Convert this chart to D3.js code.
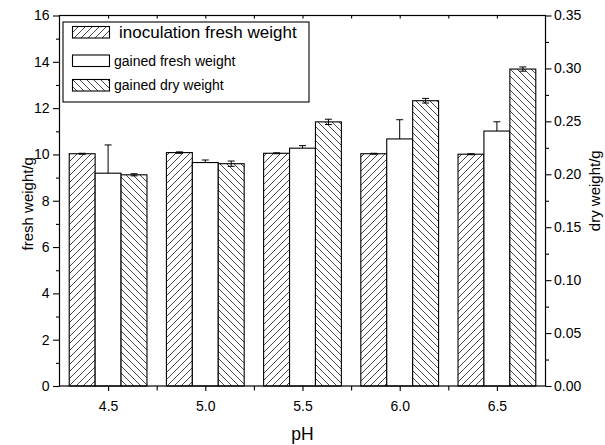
<!DOCTYPE html>
<html><head><meta charset="utf-8">
<script src="https://cdn.jsdelivr.net/npm/d3@7"></script>
<style>body{margin:0;background:#fff}svg{display:block}text{font-family:"Liberation Sans",Arial,sans-serif;fill:#000}</style>
</head><body>
<svg id="c" width="605" height="445"></svg>
<script>
const categories = [4.5, 5.0, 5.5, 6.0, 6.5];
const tickLabels = ["4.5", "5.0", "5.5", "6.0", "6.5"];
const seriesNames = ["inoculation fresh weight", "gained fresh weight", "gained dry weight"];
const inoculationFresh = [10.03, 10.08, 10.05, 10.03, 10.01];
const inoculationErr = [0.02, 0.03, 0.02, 0.02, 0.02];
const gainedFresh = [9.19, 9.65, 10.27, 10.67, 11.01];
const gainedFreshErr = [1.22, 0.11, 0.11, 0.83, 0.40];
const gainedDry = [0.1995, 0.210, 0.2495, 0.2695, 0.2994];
const gainedDryErr = [0.001, 0.0025, 0.0025, 0.0022, 0.002];

const svg = d3.select("#c");
const L = 59.5, R = 545.5, T = 15.5, B = 386;
const x = d3.scaleLinear().domain([4.25, 6.75]).range([L, R]);
const yL = d3.scaleLinear().domain([0, 16]).range([B, T]);
const yR = d3.scaleLinear().domain([0, 0.35]).range([B, T]);
const groupW = (x(5.0) - x(4.5)) * 0.8;
const inner = d3.scaleBand().domain([0,1,2]).range([-groupW/2, groupW/2]).padding(0);

const defs = svg.append("defs");
function hatch(id, d) {
  const p = defs.append("pattern").attr("id", id).attr("patternUnits", "userSpaceOnUse")
    .attr("width", 7).attr("height", 7);
  p.append("rect").attr("width", 7).attr("height", 7).attr("fill", "#fff");
  p.append("path").attr("d", d).attr("stroke", "#333").attr("stroke-width", 0.9).attr("fill", "none");
}
hatch("fwd", "M0,7 L7,0 M-1,1 L1,-1 M6,8 L8,6");
hatch("bwd", "M0,0 L7,7 M-1,6 L1,8 M6,-1 L8,1");
const fills = ["url(#fwd)", "#fff", "url(#bwd)"];

const series = [
  {vals: inoculationFresh, err: inoculationErr, y: yL, both: true},
  {vals: gainedFresh, err: gainedFreshErr, y: yL, both: false},
  {vals: gainedDry, err: gainedDryErr, y: yR, both: true}
];

series.forEach((s, si) => {
  const g = svg.append("g");
  categories.forEach((c, i) => {
    const x0 = x(c) + inner(si);
    const w = inner.bandwidth();
    g.append("rect").attr("x", x0).attr("y", s.y(s.vals[i])).attr("width", w)
      .attr("height", B - s.y(s.vals[i])).attr("fill", fills[si])
      .attr("stroke", "#000").attr("stroke-width", 1.1);
    const cx = x0 + w/2;
    const top = s.y(s.vals[i] + s.err[i]);
    const bot = s.both ? s.y(s.vals[i] - s.err[i]) : s.y(s.vals[i]);
    g.append("line").attr("x1", cx).attr("x2", cx).attr("y1", top).attr("y2", bot)
      .attr("stroke", "#000").attr("stroke-width", 1);
    g.append("line").attr("x1", cx-3.5).attr("x2", cx+3.5).attr("y1", top).attr("y2", top)
      .attr("stroke", "#000").attr("stroke-width", 1);
    if (s.both) g.append("line").attr("x1", cx-3.5).attr("x2", cx+3.5).attr("y1", bot).attr("y2", bot)
      .attr("stroke", "#000").attr("stroke-width", 1);
  });
});

// frame
svg.append("rect").attr("x", L).attr("y", T).attr("width", R-L).attr("height", B-T)
  .attr("fill", "none").attr("stroke", "#000").attr("stroke-width", 1.2);

// left axis
svg.append("g").attr("transform", `translate(${L},0)`)
  .call(d3.axisLeft(yL).tickValues(d3.range(0, 17, 2)).tickFormat(d3.format("d")).tickSize(6.5).tickPadding(3.5));
svg.append("g").attr("transform", `translate(${L},0)`)
  .call(d3.axisLeft(yL).tickValues(d3.range(1, 16, 2)).tickFormat("").tickSize(3.5));
// right axis
svg.append("g").attr("transform", `translate(${R},0)`)
  .call(d3.axisRight(yR).tickValues(d3.range(0, 0.351, 0.05)).tickFormat(d3.format(".2f")).tickSize(6).tickPadding(2.5));
svg.append("g").attr("transform", `translate(${R},0)`)
  .call(d3.axisRight(yR).tickValues(d3.range(0.025, 0.35, 0.05)).tickFormat("").tickSize(3.5));
// bottom axis
svg.append("g").attr("transform", `translate(0,${B})`)
  .call(d3.axisBottom(x).tickValues(categories).tickFormat((d,i) => tickLabels[i]).tickSize(5).tickPadding(10));
svg.append("g").attr("transform", `translate(0,${B})`)
  .call(d3.axisBottom(x).tickValues([4.75, 5.25, 5.75, 6.25]).tickFormat("").tickSize(4.5));
// top inward ticks
svg.append("g").attr("transform", `translate(0,${T})`)
  .call(d3.axisBottom(x).tickValues(categories.concat([4.75, 5.25, 5.75, 6.25])).tickFormat("").tickSize(3));

svg.selectAll(".domain").remove();
svg.selectAll(".tick line").attr("stroke", "#000").attr("stroke-width", 1.1);
svg.selectAll(".tick text").attr("font-size", 14).attr("font-family", "Liberation Sans, Arial, sans-serif").attr("fill", "#000");

// axis titles
svg.append("text").attr("transform", `translate(33,${(T+B)/2 + 3}) rotate(-90)`)
  .attr("text-anchor", "middle").attr("font-size", 15).text("fresh weight/g");
svg.append("text").attr("transform", `translate(600,${(T+B)/2 - 10}) rotate(-90)`)
  .attr("text-anchor", "middle").attr("font-size", 15).text("dry weight/g");
svg.append("text").attr("x", (L+R)/2).attr("y", 440).attr("text-anchor", "middle")
  .attr("font-size", 17.5).text("pH");

// legend
const lg = svg.append("g");
lg.append("rect").attr("x", 63).attr("y", 22).attr("width", 246).attr("height", 80)
  .attr("fill", "#fff").attr("stroke", "#000").attr("stroke-width", 1.1);
const rowsY = [32, 60.5, 85];
seriesNames.forEach((n, i) => {
  lg.append("rect").attr("x", 72.5).attr("y", rowsY[i] - 5.5).attr("width", 37).attr("height", 11.5)
    .attr("fill", fills[i]).attr("stroke", "#000").attr("stroke-width", 1.1);
  lg.append("text").attr("x", i === 0 ? 119 : 114).attr("y", rowsY[i] + (i === 0 ? 6 : 5))
    .attr("font-size", i === 0 ? 17 : 14).text(n);
});
</script>
</body></html>
